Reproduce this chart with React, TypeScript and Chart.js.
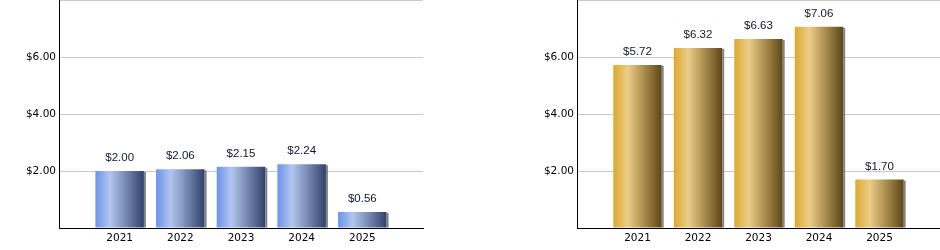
import React, { useEffect, useRef } from "react";
import { Chart, registerables } from "chart.js";

Chart.register(...registerables);

// Fiscal years shown on both panels
const years = ["2021", "2022", "2023", "2024", "2025"];
// Left panel per-year amounts
const leftValues = [2.0, 2.06, 2.15, 2.24, 0.56];
// Right panel per-year amounts
const rightValues = [5.72, 6.32, 6.63, 7.06, 1.7];
// Value axis range and tick step
const yMax = 8;
const yStep = 2;

type Palette = { stops: [number, string][] };

const bluePalette: Palette = {
  stops: [
    [0, "#6a94ec"],
    [0.3, "#b2c5ee"],
    [0.55, "#8598c2"],
    [1, "#30416a"],
  ],
};

const goldPalette: Palette = {
  stops: [
    [0, "#dba92c"],
    [0.3, "#ebcd88"],
    [0.55, "#bb9d5c"],
    [1, "#5c4616"],
  ],
};

const money = (v: number) => "$" + v.toFixed(2);

const barDecor = {
  id: "barDecor",
  afterDatasetsDraw(chart: any) {
    const ctx = chart.ctx;
    const meta = chart.getDatasetMeta(0);
    const values: number[] = chart.data.datasets[0].data.map((d: any) => d.y);
    ctx.save();
    meta.data.forEach((bar: any, i: number) => {
      const { x, y, base, width } = bar.getProps(["x", "y", "base", "width"], true);
      // narrow drop shadow along the right edge
      ctx.fillStyle = "rgba(110,110,110,0.85)";
      ctx.fillRect(x + width / 2, y + 1, 2, base - y - 1);
      // value label above the bar
      ctx.fillStyle = "#14142e";
      ctx.font = '11.5px "Liberation Sans", Arial, sans-serif';
      ctx.textAlign = "center";
      ctx.textBaseline = "middle";
      ctx.fillText(money(values[i]), x, y - 13);
    });
    ctx.restore();
  },
};

function makeConfig(values: number[], palette: Palette, axisWidth: number, padRight: number) {
  return {
    type: "bar" as const,
    data: {
      datasets: [
        {
          data: values.map((v, i) => ({ x: i, y: v })),
          barPercentage: 0.8,
          categoryPercentage: 1,
          borderWidth: 0,
          backgroundColor: (c: any) => {
            const chart = c.chart;
            const xs = chart.scales && chart.scales.x;
            if (!xs || c.dataIndex === undefined) return palette.stops[0][1];
            const l = xs.getPixelForValue(c.dataIndex - 0.4);
            const r = xs.getPixelForValue(c.dataIndex + 0.4);
            if (!Number.isFinite(l) || !Number.isFinite(r) || l === r) return palette.stops[0][1];
            const g = chart.ctx.createLinearGradient(l, 0, r, 0);
            palette.stops.forEach(([o, col]) => g.addColorStop(o, col));
            return g;
          },
        },
      ],
    },
    options: {
      responsive: false,
      animation: false as const,
      layout: { padding: { left: 0, right: padRight, top: 0, bottom: 0 } },
      plugins: {
        legend: { display: false },
        tooltip: { enabled: false },
      },
      scales: {
        x: {
          type: "linear" as const,
          offset: false,
          min: -1,
          max: years.length,
          afterBuildTicks: (s: any) => {
            s.ticks = years.map((_, i) => ({ value: i }));
          },
          afterFit: (s: any) => {
            s.height = 22;
            s.paddingLeft = 0;
            s.paddingRight = 0;
          },
          grid: { display: false, drawTicks: false },
          border: { display: true, color: "#000", width: 1 },
          ticks: {
            autoSkip: false,
            maxRotation: 0,
            padding: 4,
            color: "#000",
            font: { family: '"DejaVu Sans", sans-serif', size: 10.5 },
            callback: (v: any) => years[v] ?? "",
          },
        },
        y: {
          min: 0,
          max: yMax,
          afterFit: (s: any) => {
            s.width = axisWidth;
            s.paddingTop = 0;
            s.paddingBottom = 0;
          },
          grid: { color: "#c8c8c8", drawTicks: false },
          border: { display: true, color: "#000", width: 1 },
          ticks: {
            stepSize: yStep,
            padding: 3,
            color: "#000",
            font: { family: '"DejaVu Sans", sans-serif', size: 10.5 },
            callback: (v: any) => (v === 0 || v === yMax ? "" : money(Number(v))),
          },
        },
      },
    },
    plugins: [barDecor],
  };
}

function BarPanel(props: { values: number[]; palette: Palette; axisWidth: number; padRight: number; left: number }) {
  const ref = useRef<HTMLCanvasElement | null>(null);
  useEffect(() => {
    if (!ref.current) return;
    const chart = new Chart(
      ref.current,
      makeConfig(props.values, props.palette, props.axisWidth, props.padRight) as any
    );
    return () => chart.destroy();
  }, []);
  return (
    <canvas
      ref={ref}
      width={470}
      height={250}
      style={{ position: "absolute", left: props.left, top: 0, width: 470, height: 250, display: "block" }}
    />
  );
}

export default function App() {
  return (
    <div style={{ position: "fixed", left: 0, top: 0, width: 940, height: 250, background: "#fff" }}>
      <BarPanel values={leftValues} palette={bluePalette} axisWidth={59} padRight={47} left={0} />
      <BarPanel values={rightValues} palette={goldPalette} axisWidth={107} padRight={0} left={470} />
    </div>
  );
}
